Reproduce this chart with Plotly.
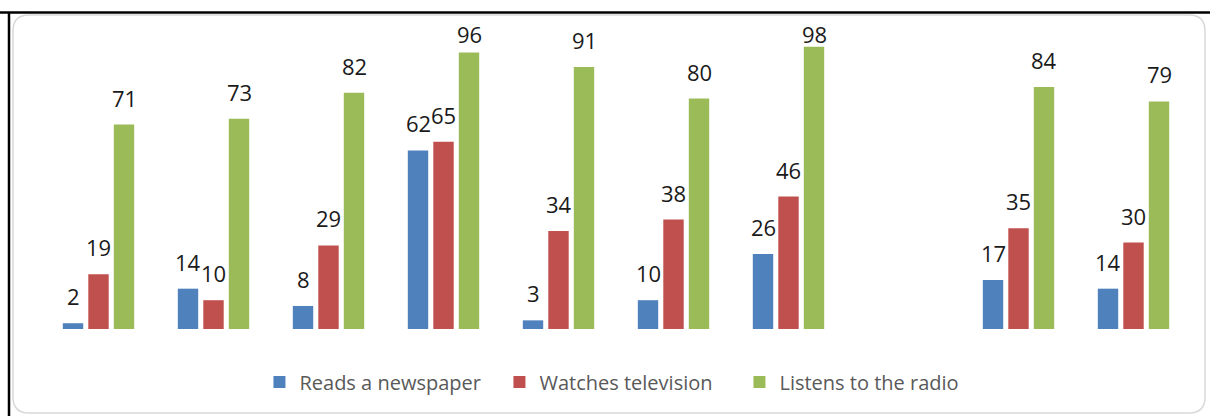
import plotly.graph_objects as go

categories = ["G1", "G2", "G3", "G4", "G5", "G6", "G7", "GAP", "G8", "G9"]
newspaper = [2, 14, 8, 62, 3, 10, 26, None, 17, 14]
television = [19, 10, 29, 65, 34, 38, 46, None, 35, 30]
radio = [71, 73, 82, 96, 91, 80, 98, None, 84, 79]
series_names = ["Reads a newspaper", "Watches television", "Listens to the radio"]
series_colors = ["#4F81BD", "#C0504D", "#9BBB59"]

W, H = 1210, 416
L, R, T, B = 41, 19, 41, 87
pw, ph = W - L - R, H - T - B
LABEL_CAP = 93  # labels are kept inside the chart area near the top

def px(x):
    return (x - L) / pw

def py(y):
    return (H - B - y) / ph

fig = go.Figure()
annotations = []
slot_px = 25.5
for i, (name, vals, col) in enumerate(zip(series_names, [newspaper, television, radio], series_colors)):
    fig.add_trace(go.Bar(
        x=categories, y=vals, name=name,
        marker=dict(color=col, line=dict(width=0)),
    ))
    for c, v in zip(categories, vals):
        if v is None:
            continue
        annotations.append(dict(
            x=c, y=min(v, LABEL_CAP), xref="x", yref="y", text=str(v), showarrow=False,
            xanchor="center", yanchor="bottom", xshift=(i - 1) * slot_px, yshift=10,
            font=dict(family="Open Sans", size=22, color="#1a1a1a"),
        ))

# rounded light-gray chart border
x0, x1, y0, y1, r = px(13), px(1205), py(15), py(413), 16
rx, ry = r / pw, r / ph
path = (f"M {x0+rx},{y0} L {x1-rx},{y0} Q {x1},{y0} {x1},{y0-ry} "
        f"L {x1},{y1+ry} Q {x1},{y1} {x1-rx},{y1} L {x0+rx},{y1} "
        f"Q {x0},{y1} {x0},{y1+ry} L {x0},{y0-ry} Q {x0},{y0} {x0+rx},{y0} Z")
shapes = [
    dict(type="path", xref="paper", yref="paper", path=path,
         line=dict(color="#D9D9D9", width=1.5), layer="below"),
    dict(type="line", xref="paper", yref="paper", x0=px(0), x1=px(1210),
         y0=py(12.5), y1=py(12.5), line=dict(color="black", width=2.5)),
    dict(type="line", xref="paper", yref="paper", x0=px(9), x1=px(9),
         y0=py(12), y1=py(416), line=dict(color="black", width=2.5)),
]

fig.update_layout(
    width=W, height=H,
    margin=dict(l=L, r=R, t=T, b=B),
    paper_bgcolor="white", plot_bgcolor="white",
    barmode="group", bargap=0.335, bargroupgap=0.2,
    showlegend=True,
    legend=dict(orientation="h", x=0.503, xanchor="center", y=py(382),
                yanchor="middle", font=dict(family="Open Sans", size=20, color="#595959"),
                itemwidth=30, traceorder="normal", entrywidth=195, entrywidthmode="pixels"),
    xaxis=dict(type="category", categoryorder="array", categoryarray=categories,
               showticklabels=False, showgrid=False, zeroline=False, showline=False,
               ticks=""),
    yaxis=dict(range=[0, 100], showticklabels=False, showgrid=False,
               zeroline=False, showline=False),
    shapes=shapes,
    annotations=annotations,
)

fig.write_html("out.html", config={"displayModeBar": False},
               post_script="document.body.style.margin='0';document.body.style.overflow='hidden';")
